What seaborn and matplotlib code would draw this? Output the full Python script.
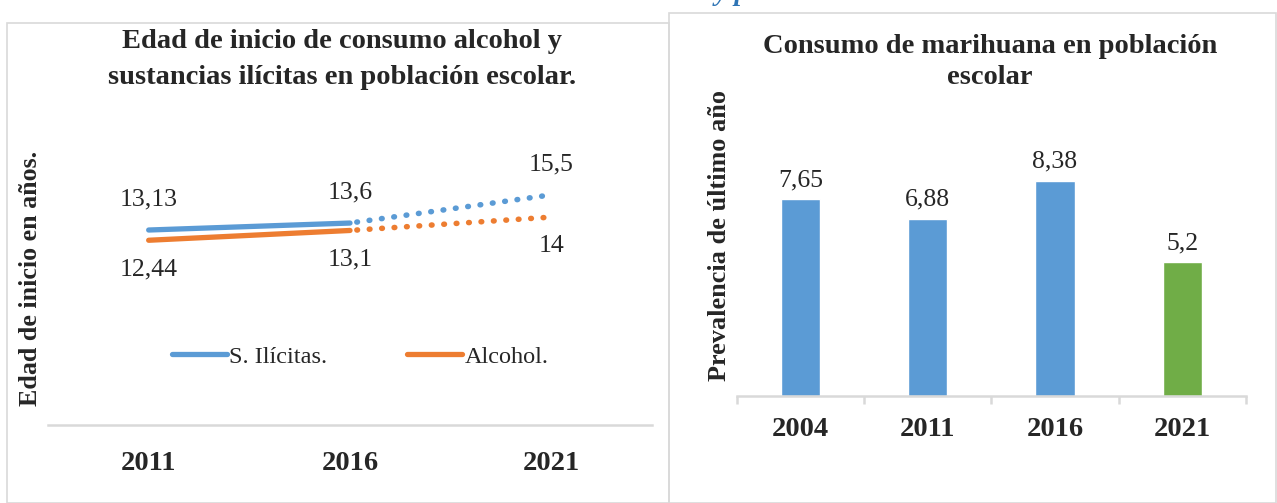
import numpy as np
import pandas as pd
import matplotlib
matplotlib.use("Agg")
import matplotlib.pyplot as plt
import seaborn as sns
from matplotlib.lines import Line2D
from matplotlib.patches import Rectangle

# Datos del grafico de lineas (edad de inicio)
anios_edad = ["2011", "2016", "2021"]
ilicitas = [13.13, 13.6, 15.5]
alcohol = [12.44, 13.1, 14.0]
etiquetas_ilicitas = ["13,13", "13,6", "15,5"]
etiquetas_alcohol = ["12,44", "13,1", "14"]
series = ["S. Ilícitas.", "Alcohol."]

# Datos del grafico de barras (marihuana)
anios_mari = ["2004", "2011", "2016", "2021"]
prevalencia = [7.65, 6.88, 8.38, 5.2]
etiquetas_prev = ["7,65", "6,88", "8,38", "5,2"]

AZUL = "#5B9BD5"
NARANJA = "#ED7D31"
VERDE = "#70AD47"
GRIS = "#D9D9D9"
colores_barras = [AZUL, AZUL, AZUL, VERDE]

sns.set_theme(style="white")
plt.rcParams['font.family'] = ['Liberation Serif', 'DejaVu Serif']

W, H = 1277, 503
fig = plt.figure(figsize=(W / 100, H / 100), dpi=100)


def rect(x0, y0, x1, y1):
    # pixeles (origen arriba-izquierda) -> fraccion de figura
    return [x0 / W, 1 - y1 / H, (x1 - x0) / W, (y1 - y0) / H]


def fx(x):
    return x / W


def fy(y):
    return 1 - y / H


# Bordes de los paneles
fig.patches.append(Rectangle((fx(7), fy(503)), fx(669) - fx(7), fy(23) - fy(503),
                             transform=fig.transFigure, fill=False, edgecolor=GRIS, lw=1.2))
fig.patches.append(Rectangle((fx(669), fy(503)), fx(1276) - fx(669), fy(13) - fy(503),
                             transform=fig.transFigure, fill=False, edgecolor=GRIS, lw=1.2))

# Texto cortado de la parte superior (solo se ve la parte baja)
fig.text(fx(625), fy(0.4), "Ilustración 1 - Edad de inicio de consumo de sustancias y prevalencia de consumo de marihuana",
         ha="center", va="baseline", fontsize=20, fontweight="bold", fontstyle="italic", color="#2E74B5")

# ---- Grafico de lineas ----
ax1 = fig.add_axes(rect(48, 128, 652, 425))
x = np.arange(len(anios_edad))
df_edad = pd.DataFrame({"x": np.concatenate([x, x]),
                        "valor": ilicitas + alcohol,
                        "serie": [series[0]] * 3 + [series[1]] * 3})

for serie, color in zip(series, [AZUL, NARANJA]):
    d = df_edad[df_edad["serie"] == serie]
    sns.lineplot(data=d[d["x"] <= 1], x="x", y="valor", color=color, lw=3.8,
                 solid_capstyle="round", ax=ax1, legend=False)
    sns.lineplot(data=d[d["x"] >= 1], x="x", y="valor", color=color, lw=4.0,
                 dashes=False, ax=ax1, legend=False)
    punteada = ax1.lines[-1]
    punteada.set_linestyle((1.0, (0.12, 2.12)))
    punteada.set_dash_capstyle("round")

for i in range(3):
    ax1.annotate(etiquetas_ilicitas[i], (x[i], ilicitas[i]), xytext=(0, 14),
                 textcoords="offset points", ha="center", va="bottom", fontsize=18.5)
    ax1.annotate(etiquetas_alcohol[i], (x[i], alcohol[i]), xytext=(0, -13),
                 textcoords="offset points", ha="center", va="top", fontsize=18.5)

ax1.set_xlim(-0.5, 2.5)
ax1.set_ylim(0, 20)
ax1.set_xticks(x)
ax1.set_xticklabels(anios_edad, fontsize=20.5, fontweight="bold")
ax1.tick_params(axis="x", length=0, pad=19)
ax1.set_yticks([])
ax1.set_xlabel("")
ax1.set_ylabel("")
for s in ["top", "left", "right"]:
    ax1.spines[s].set_visible(False)
ax1.spines["bottom"].set_color(GRIS)
ax1.spines["bottom"].set_linewidth(1.8)

handles = [Line2D([], [], color=AZUL, lw=3.8, solid_capstyle="round"),
           Line2D([], [], color=NARANJA, lw=3.8, solid_capstyle="round")]
ax1.legend(handles, series, loc="center", bbox_to_anchor=(0.517, 0.23), ncol=2, frameon=False,
           fontsize=17.5, handlelength=2.25, handletextpad=0.1, columnspacing=3.3)

fig.text(fx(342), fy(42), "Edad de inicio de consumo alcohol y", ha="center", va="center",
         fontsize=20.5, fontweight="bold")
fig.text(fx(342), fy(78), "sustancias ilícitas en población escolar.", ha="center", va="center",
         fontsize=20.5, fontweight="bold")
fig.text(fx(31), fy(278), "Edad de inicio en años.", ha="center", va="center", rotation=90,
         fontsize=18.7, fontweight="bold")

# ---- Grafico de barras ----
ax2 = fig.add_axes(rect(736.7, 139, 1245.9, 396))
df_mari = pd.DataFrame({"anio": anios_mari, "prev": prevalencia})
sns.barplot(data=df_mari, x="anio", y="prev", hue="anio", palette=colores_barras,
            width=0.31, legend=False, ax=ax2, saturation=1)

for i, v in enumerate(prevalencia):
    ax2.annotate(etiquetas_prev[i], (i, v), xytext=(0, 6), textcoords="offset points",
                 ha="center", va="bottom", fontsize=18.5)

ax2.set_xlim(-0.5, 3.5)
ax2.set_ylim(0, 10)
ax2.set_yticks([])
ax2.set_xticks(range(4))
ax2.set_xticklabels(anios_mari, fontsize=20.5, fontweight="bold")
ax2.set_xticks(np.arange(-0.5, 4, 1), minor=True)
ax2.tick_params(axis="x", which="major", length=0, pad=15)
ax2.tick_params(axis="x", which="minor", length=6, width=1.8, color=GRIS, direction="out", bottom=True)
ax2.set_xlabel("")
ax2.set_ylabel("")
for s in ["top", "left", "right"]:
    ax2.spines[s].set_visible(False)
ax2.spines["bottom"].set_color(GRIS)
ax2.spines["bottom"].set_linewidth(1.8)

fig.text(fx(990), fy(46), "Consumo de marihuana en población", ha="center", va="center",
         fontsize=20.5, fontweight="bold")
fig.text(fx(990), fy(78), "escolar", ha="center", va="center", fontsize=20.5, fontweight="bold")
fig.text(fx(719), fy(235), "Prevalencia de último año", ha="center", va="center", rotation=90,
         fontsize=18.9, fontweight="bold")

fig.savefig("out.png", dpi=100)
